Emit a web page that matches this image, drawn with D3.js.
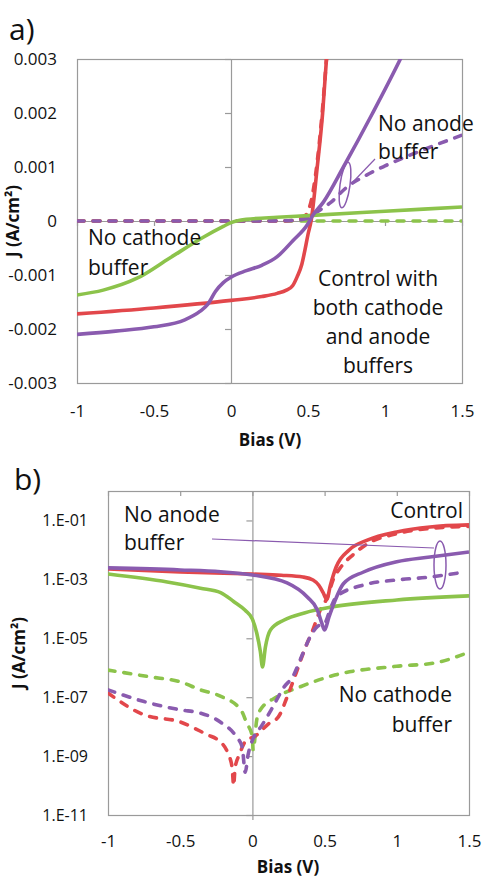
<!DOCTYPE html>
<html><head><meta charset="utf-8">
<script src="https://cdn.jsdelivr.net/npm/d3@7"></script>
<style>
body{margin:0;background:#fff;}
svg{display:block;font-family:"Open Sans",sans-serif;}
</style></head>
<body><svg id="c" width="484" height="881"></svg>
<script>
// ---------- Panel a) linear J–V (A/cm²) ----------
const xTicks = [-1, -0.5, 0, 0.5, 1, 1.5];
const xTickLabels = ["-1", "-0.5", "0", "0.5", "1", "1.5"];
const yTicksLin = [-0.003, -0.002, -0.001, 0, 0.001, 0.002, 0.003];
const yTickLabelsLin = ["-0.003", "-0.002", "-0.001", "0", "0.001", "0.002", "0.003"];

const linCtrlV = [-1, -0.5, 0, 0.2, 0.3, 0.36, 0.4, 0.43, 0.46, 0.48, 0.5, 0.52, 0.56, 0.595, 0.62, 0.65];
const linCtrlJ = [-0.00172, -0.00161, -0.00147, -0.0014, -0.00134, -0.00128, -0.0012, -0.00103, -0.0008, -0.00054, -0.00025, 0, 0.001, 0.002, 0.003, 0.0039];
const linCtrlDashV = [-1, 0, 0.3, 0.4, 0.46, 0.5, 0.53, 0.56, 0.595, 0.62, 0.65];
const linCtrlDashJ = [0, 0, 0, 0.00001, 0.00005, 0.00018, 0.0005, 0.0011, 0.0021, 0.003, 0.0039];
const linAnodeV = [-1, -0.75, -0.5, -0.3, -0.2, -0.15, -0.1, -0.05, 0, 0.1, 0.2, 0.3, 0.4, 0.5, 0.53, 0.6, 0.73, 0.92, 1.1, 1.2];
const linAnodeJ = [-0.0021, -0.00204, -0.00196, -0.00183, -0.00167, -0.00154, -0.0013, -0.00114, -0.00104, -0.00092, -0.00082, -0.00066, -0.00037, -0.00005, 0.0001, 0.00035, 0.001, 0.002, 0.003, 0.0036];
const linAnodeDashV = [-1, 0, 0.3, 0.4, 0.5, 0.55, 0.65, 0.75, 0.88, 1.0, 1.25, 1.5];
const linAnodeDashJ = [0, 0, 0.000003, 0.00001, 0.00005, 0.00015, 0.00035, 0.00062, 0.00085, 0.00102, 0.00132, 0.00159];
const linCathV = [-1, -0.83, -0.61, -0.4, -0.18, -0.05, 0, 0.05, 0.1, 0.3, 0.5, 1, 1.5];
const linCathJ = [-0.00137, -0.00128, -0.00106, -0.00069, -0.0003, -0.0001, -0.00003, 0.00001, 0.00003, 0.00007, 0.0001, 0.00018, 0.00026];
const linCathDashV = [-1, 1.5];
const linCathDashJ = [0, 0];

// ---------- Panel b) log |J| (stored as log10 of A/cm²) ----------
const yTicksLog = [1e-11, 1e-9, 1e-7, 1e-5, 1e-3, 1e-1];
const yTickLabelsLog = ["1.E-11", "1.E-09", "1.E-07", "1.E-05", "1.E-03", "1.E-01"];

const logCtrlV = [-1, -0.5, 0, 0.2, 0.35, 0.42, 0.46, 0.49, 0.515, 0.54, 0.58, 0.67, 0.8, 1, 1.23, 1.5];
const logCtrlL = [-2.65, -2.75, -2.82, -2.86, -2.92, -3.02, -3.2, -3.45, -3.68, -3.2, -2.58, -2.0, -1.66, -1.39, -1.22, -1.15];
const logCtrlDashV = [-1, -0.75, -0.5, -0.31, -0.24, -0.17, -0.14, -0.13, -0.12, -0.09, -0.04, 0.01, 0.12, 0.18, 0.24, 0.31, 0.36, 0.42, 0.47, 0.52, 0.56, 0.61, 0.7, 0.8, 1, 1.23, 1.5];
const logCtrlDashL = [-6.86, -7.6, -7.84, -8.28, -8.45, -8.9, -9.4, -10.0, -9.4, -8.95, -8.45, -8.35, -7.87, -7.67, -7.0, -6.08, -5.4, -4.7, -4.04, -3.6, -3.0, -2.6, -2.15, -1.78, -1.45, -1.27, -1.2];
const logAnodeV = [-1, -0.5, -0.22, 0, 0.24, 0.38, 0.45, 0.48, 0.5, 0.53, 0.57, 0.63, 0.77, 1, 1.23, 1.5];
const logAnodeL = [-2.61, -2.68, -2.74, -2.85, -3.12, -3.6, -4.04, -4.48, -4.72, -4.28, -3.75, -3.15, -2.75, -2.4, -2.24, -2.07];
const logAnodeDashV = [-1, -0.75, -0.5, -0.36, -0.22, -0.11, -0.07, -0.05, -0.03, 0.01, 0.06, 0.13, 0.22, 0.28, 0.34, 0.4, 0.45, 0.5, 0.54, 0.58, 0.77, 1, 1.23, 1.43];
const logAnodeDashL = [-6.75, -7.15, -7.43, -7.54, -7.85, -8.35, -8.7, -9.55, -8.96, -8.35, -8.0, -7.43, -6.65, -6.3, -5.63, -4.95, -4.6, -4.5, -4.0, -3.6, -3.19, -3.02, -2.92, -2.78];
const logCathV = [-1, -0.59, -0.36, -0.22, -0.13, -0.05, 0, 0.03, 0.055, 0.07, 0.09, 0.125, 0.22, 0.36, 0.55, 1, 1.5];
const logCathL = [-2.82, -3.09, -3.3, -3.45, -3.75, -4.05, -4.35, -4.82, -5.45, -5.97, -5.3, -4.72, -4.38, -4.14, -3.94, -3.7, -3.56];
const logCathDashV = [-1, -0.71, -0.5, -0.36, -0.23, -0.08, -0.04, 0, 0.005, 0.03, 0.055, 0.17, 0.33, 0.57, 1, 1.26, 1.5];
const logCathDashL = [-6.08, -6.31, -6.48, -6.75, -6.95, -7.43, -7.87, -8.35, -8.8, -7.77, -7.43, -6.99, -6.65, -6.25, -5.95, -5.84, -5.47];

const RED = "#E2474B", GREEN = "#8CC34B", PURPLE = "#8A5BAF";
const GRID = "#9a9a9a", TXT = "#111";

const svg = d3.select("#c");
const zip = (a, b) => a.map((v, i) => [v, b[i]]);

function drawPanel(o) {
  const g = svg.append("g");
  const x = d3.scaleLinear().domain([-1, 1.5]).range([o.x0, o.x1]);
  const y = o.y;
  const id = "clip" + o.name;
  svg.append("clipPath").attr("id", id).append("rect")
    .attr("x", o.x0).attr("y", o.y1).attr("width", o.x1 - o.x0).attr("height", o.y0 - o.y1);
  g.append("rect").attr("x", o.x0 + 0.5).attr("y", o.y1 + 0.5)
    .attr("width", o.x1 - o.x0).attr("height", o.y0 - o.y1)
    .attr("fill", "none").attr("stroke", GRID).attr("stroke-width", 1.2);
  const yl = g.append("g").attr("transform", `translate(${o.x0},0)`)
    .call(d3.axisLeft(y).tickValues(o.yTicks).tickSize(0).tickPadding(o.yPad)
      .tickFormat((d, i) => o.yLabels[i]));
  yl.select(".domain").remove();
  yl.selectAll("text").attr("font-size", o.yFont).attr("fill", TXT).attr("font-family", "Open Sans");
  const xl = g.append("g").attr("transform", `translate(0,${o.y0})`)
    .call(d3.axisBottom(x).tickValues(xTicks).tickSize(0).tickPadding(o.xPad)
      .tickFormat((d, i) => xTickLabels[i]));
  xl.select(".domain").remove();
  xl.selectAll("text").attr("font-size", o.xFont).attr("fill", TXT).attr("font-family", "Open Sans");
  const va = g.append("g").attr("transform", `translate(${x(0)},0)`)
    .call(d3.axisLeft(y).tickValues(o.yTicks).tickSize(6).tickFormat(""));
  va.select(".domain").attr("d", `M0.5,${o.y1}V${o.y0 + (o.name === "b" ? 5 : 0)}`);
  va.selectAll("path,line").attr("stroke", GRID).attr("stroke-width", 1.2);
  const ha = g.append("g").attr("transform", `translate(0,${o.hy})`)
    .call(d3.axisBottom(x).tickValues(xTicks).tickSize(5).tickFormat(""));
  ha.select(".domain").attr("d", `M${o.x0},0.5H${o.x1}`);
  ha.selectAll("path,line").attr("stroke", GRID).attr("stroke-width", 1.2);
  const lg = g.append("g").attr("clip-path", `url(#${id})`);
  o.series.forEach(s => {
    const line = d3.line().x(d => x(d[0])).y(d => y(o.val(d[1]))).curve(d3.curveMonotoneX);
    lg.append("path").attr("d", line(zip(s.v, s.j)))
      .attr("fill", "none").attr("stroke", s.c).attr("stroke-width", 3.6)
      .attr("stroke-linecap", s.dash ? "round" : "butt")
      .attr("stroke-linejoin", "round")
      .attr("stroke-dasharray", s.dash ? "7,9" : null);
  });
  g.append("text").attr("x", o.bx).attr("y", o.by).attr("text-anchor", "middle")
    .attr("font-weight", "bold").attr("font-size", 17).attr("fill", TXT).text("Bias (V)");
  g.append("text").attr("transform", `translate(${o.jx},${(o.y0 + o.y1) / 2}) rotate(-90)`)
    .attr("text-anchor", "middle").attr("dy", "0.35em")
    .attr("font-weight", "bold").attr("font-size", 17).attr("fill", TXT).text("J (A/cm²)");
  return { g, x, y };
}

const yA = d3.scaleLinear().domain([-0.003, 0.003]).range([383, 59]);
drawPanel({
  name: "a", x0: 77, x1: 462, y0: 383, y1: 59, y: yA, hy: yA(0),
  yTicks: yTicksLin, yLabels: yTickLabelsLin, yPad: 20, yFont: 17, xFont: 17, xPad: 22,
  val: d => d, bx: 270, by: 446, jx: 13,
  series: [
    { v: linCathDashV, j: linCathDashJ, c: GREEN, dash: true },
    { v: linCtrlDashV, j: linCtrlDashJ, c: RED, dash: true },
    { v: linAnodeDashV, j: linAnodeDashJ, c: PURPLE, dash: true },
    { v: linCathV, j: linCathJ, c: GREEN },
    { v: linCtrlV, j: linCtrlJ, c: RED },
    { v: linAnodeV, j: linAnodeJ, c: PURPLE }
  ]
});

const yB = d3.scaleLog().domain([1e-11, 1]).range([815, 491]);
drawPanel({
  name: "b", x0: 108, x1: 469, y0: 815, y1: 491, y: yB, hy: 491,
  yTicks: yTicksLog, yLabels: yTickLabelsLog, yPad: 20, yFont: 16, xFont: 17, xPad: 20,
  val: d => Math.pow(10, d), bx: 288, by: 873, jx: 19,
  series: [
    { v: logCathDashV, j: logCathDashL, c: GREEN, dash: true },
    { v: logCtrlDashV, j: logCtrlDashL, c: RED, dash: true },
    { v: logAnodeDashV, j: logAnodeDashL, c: PURPLE, dash: true },
    { v: logCathV, j: logCathL, c: GREEN },
    { v: logCtrlV, j: logCtrlL, c: RED },
    { v: logAnodeV, j: logAnodeL, c: PURPLE }
  ]
});

svg.append("text").attr("x", 9).attr("y", 40).attr("font-size", 30).attr("fill", TXT).text("a)");
svg.append("text").attr("x", 14).attr("y", 490).attr("font-size", 30).attr("fill", TXT).text("b)");

function label(lines, x, y, anchor, lh) {
  const t = svg.append("text").attr("font-size", 21).attr("fill", TXT).attr("text-anchor", anchor);
  lines.forEach((s, i) => t.append("tspan").attr("x", x).attr("y", y + i * lh).text(s));
}
label(["No anode", "buffer"], 378, 131, "start", 28);
label(["No cathode", "buffer"], 88, 245, "start", 30);
label(["Control with", "both cathode", "and anode", "buffers"], 378, 286, "middle", 29);
label(["No anode", "buffer"], 124, 522, "start", 28);
label(["Control"], 463, 518, "end", 28);
label(["No cathode", "buffer"], 452, 702, "end", 30);

svg.append("ellipse").attr("cx", 345).attr("cy", 185).attr("rx", 5).attr("ry", 23)
  .attr("transform", "rotate(8,345,185)")
  .attr("fill", "none").attr("stroke", PURPLE).attr("stroke-width", 1.5);
svg.append("line").attr("x1", 352).attr("y1", 183).attr("x2", 375).attr("y2", 159)
  .attr("stroke", PURPLE).attr("stroke-width", 1.2);
svg.append("ellipse").attr("cx", 440).attr("cy", 565).attr("rx", 6).attr("ry", 24)
  .attr("fill", "none").attr("stroke", PURPLE).attr("stroke-width", 1.5);
svg.append("line").attr("x1", 212).attr("y1", 539).attr("x2", 434).attr("y2", 548)
  .attr("stroke", PURPLE).attr("stroke-width", 1.2);
</script></body></html>
